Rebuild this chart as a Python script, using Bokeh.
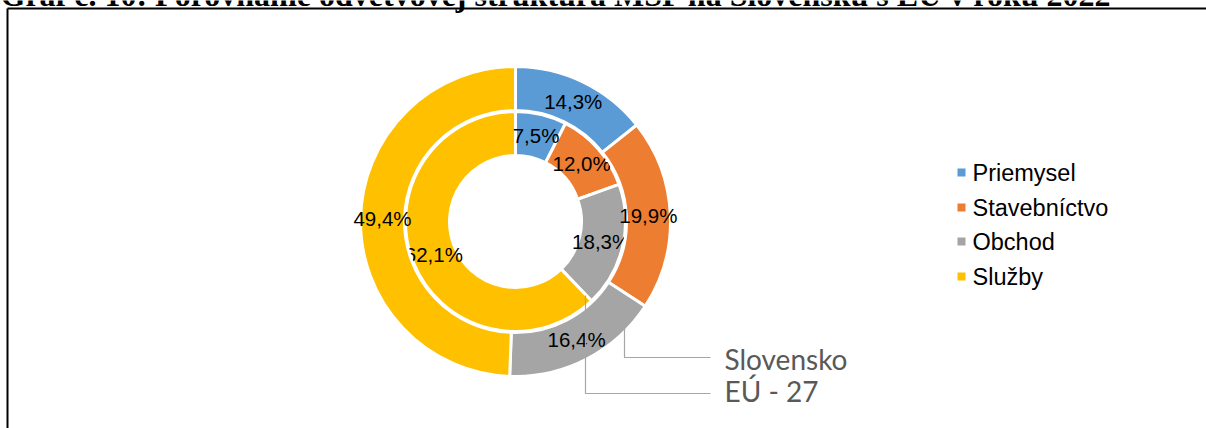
import numpy as np
from bokeh.plotting import figure
from bokeh.core.properties import value
from bokeh.models import ColumnDataSource
from bokeh.embed import file_html
from bokeh.resources import INLINE

categories = ["Priemysel", "Stavebníctvo", "Obchod", "Služby"]
colors = ["#5B9BD5", "#ED7D31", "#A5A5A5", "#FFC000"]
slovensko = [14.3, 19.9, 16.4, 49.4]   # outer ring
eu27 = [7.5, 12.0, 18.3, 62.1]         # inner ring
series_names = ["Slovensko", "EÚ - 27"]
title = "Graf č. 10: Porovnanie odvetvovej štruktúra MSP na Slovensku s EÚ v roku 2022"

W, H = 1206, 428
p = figure(width=W, height=H, x_range=(0, W), y_range=(H, 0),
           output_backend="svg", toolbar_location=None, min_border=0)
p.axis.visible = False
p.grid.visible = False
p.outline_line_color = None
p.background_fill_color = "white"

cx, cy = 515, 221
rings = [
    (eu27, 66, 110),
    (slovensko, 111, 155),
]

def fmt(v):
    return f"{v:.1f}".replace(".", ",") + "%"

for vals, r_in, r_out in rings:
    vals = np.array(vals, dtype=float)
    frac = vals / vals.sum()
    cum = np.concatenate([[0], np.cumsum(frac)])
    start = np.pi / 2 - 2 * np.pi * cum[:-1]
    end = np.pi / 2 - 2 * np.pi * cum[1:]
    mid = (start + end) / 2
    rm = (r_in + r_out) / 2
    src = ColumnDataSource(dict(
        x=[cx] * 4, y=[cy] * 4, start=list(start), end=list(end), color=colors,
        lx=list(cx + rm * np.cos(mid)), ly=list(cy - rm * np.sin(mid)),
        lab=[fmt(v) for v in vals],
    ))
    p.annular_wedge(x="x", y="y", inner_radius=r_in, outer_radius=r_out,
                    inner_radius_units="screen", outer_radius_units="screen",
                    start_angle="start", end_angle="end", direction="clock",
                    fill_color="color", line_color="white", line_width=3, source=src)
    p.text(x="lx", y="ly", text="lab", source=src, text_align="center",
           text_baseline="middle", text_font=value("Liberation Sans"),
           text_font_size="20.5px", text_color="#000000")

# legend
leg_y = [172, 207, 241, 276]
p.rect(x=[961] * 4, y=leg_y, width=8, height=8, fill_color=colors, line_color=None)
p.text(x=[972] * 4, y=leg_y, text=categories, text_baseline="middle",
       text_font=value("Liberation Sans"), text_font_size="23.5px", text_color="#000000")

# callouts
p.line(x=[624, 624, 710], y=[322, 357, 357], line_color="#A6A6A6", line_width=1.2)
p.line(x=[585, 585, 710], y=[295, 393, 393], line_color="#A6A6A6", line_width=1.2)
p.text(x=[724, 724], y=[358, 390], text=series_names, text_baseline="middle",
       text_font=value("Lato"), text_font_size="28px", text_color="#595959")

# frame lines (left and top) of the surrounding box
p.segment(x0=[7, 7], y0=[8, 8], x1=[7, W], y1=[H, 8], line_color="black", line_width=2)

# title of the page, cut off at the top edge as in the reference
p.text(x=[0], y=[-6], text=[title], text_baseline="alphabetic",
       text_font=value("Liberation Serif"), text_font_style="bold",
       text_font_size="32px", text_color="#000000")

open("out.html", "w").write(file_html(p, INLINE))
